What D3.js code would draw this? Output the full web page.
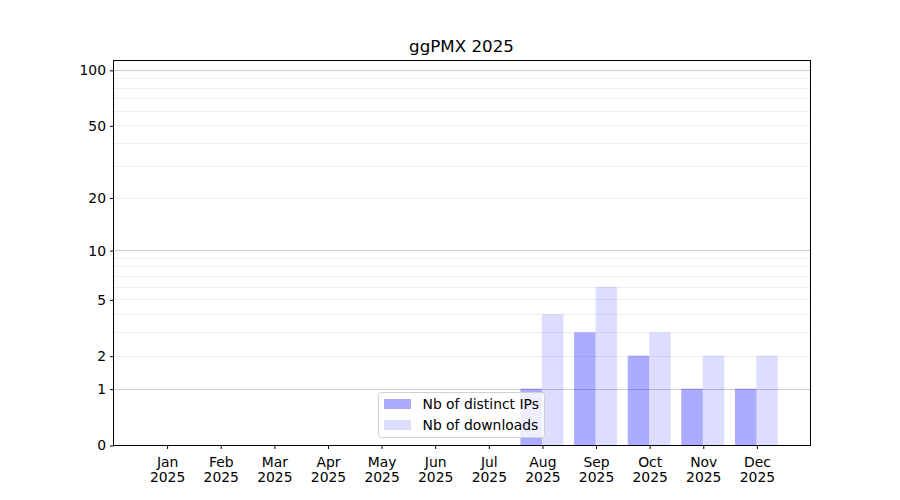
<!DOCTYPE html>
<html>
<head>
<meta charset="utf-8">
<script src="https://cdn.jsdelivr.net/npm/d3@7"></script>
<style>
body { margin: 0; background: #fff; }
text { font-family: "DejaVu Sans", sans-serif; }
</style>
</head>
<body>
<svg id="chart" width="900" height="500"></svg>
<script>
'use strict';

const months = ['Jan', 'Feb', 'Mar', 'Apr', 'May', 'Jun', 'Jul', 'Aug', 'Sep', 'Oct', 'Nov', 'Dec'];
const year = '2025';
const distinctIPs = [0, 0, 0, 0, 0, 0, 0, 1, 3, 2, 1, 1];
const downloads = [0, 0, 0, 0, 0, 0, 0, 4, 6, 3, 2, 2];
const yTicks = [0, 1, 2, 5, 10, 20, 50, 100];
const majorGrid = [1, 10, 100];
const minorGrid = [2, 3, 4, 5, 6, 7, 8, 9, 20, 30, 40, 50, 60, 70, 80, 90];

const plotLeft = 113, plotRight = 810, plotTop = 60, plotBottom = 445;
const svg = d3.select('#chart');

const x = d3.scaleLinear().domain([0, months.length + 1]).range([plotLeft, plotRight]);
const y = d3.scaleSymlog().constant(1).domain([0, 113]).range([plotBottom, plotTop]);
const barWidth = x(0.4) - x(0);

svg.append('text')
	.attr('x', (plotLeft + plotRight) / 2)
	.attr('y', 52)
	.attr('text-anchor', 'middle')
	.style('font-size', '16.7px')
	.text('ggPMX 2025');

// grid
svg.append('g').selectAll('line').data(minorGrid).join('line')
	.attr('x1', plotLeft).attr('x2', plotRight)
	.attr('y1', d => Math.round(y(d)) + 0.5).attr('y2', d => Math.round(y(d)) + 0.5)
	.attr('stroke', '#ebebeb').attr('stroke-width', 0.8);
svg.append('g').selectAll('line').data(majorGrid).join('line')
	.attr('x1', plotLeft).attr('x2', plotRight)
	.attr('y1', d => Math.round(y(d)) + 0.5).attr('y2', d => Math.round(y(d)) + 0.5)
	.attr('stroke', '#cccccc').attr('stroke-width', 1);

// bars
svg.append('g').selectAll('rect').data(distinctIPs).join('rect')
	.attr('x', (d, i) => x(i + 1) - barWidth)
	.attr('y', d => y(d))
	.attr('width', barWidth)
	.attr('height', d => y(0) - y(d))
	.attr('fill', 'blue').attr('fill-opacity', 0.33);
svg.append('g').selectAll('rect').data(downloads).join('rect')
	.attr('x', (d, i) => x(i + 1))
	.attr('y', d => y(d))
	.attr('width', barWidth)
	.attr('height', d => y(0) - y(d))
	.attr('fill', 'blue').attr('fill-opacity', 0.135);

// frame
svg.append('rect')
	.attr('x', plotLeft + 0.5).attr('y', plotTop + 0.5)
	.attr('width', plotRight - plotLeft).attr('height', plotBottom - plotTop)
	.attr('fill', 'none').attr('stroke', '#000').attr('stroke-width', 1);

// y axis
const yAxis = svg.append('g')
	.attr('transform', `translate(${plotLeft + 0.5},0.5)`)
	.call(d3.axisLeft(y).tickValues(yTicks).tickFormat(d3.format('d')).tickSize(3.5).tickPadding(4));
yAxis.select('.domain').remove();
yAxis.selectAll('text').style('font-size', '13.9px').style('font-family', '"DejaVu Sans", sans-serif');

// x axis
const xAxis = svg.append('g')
	.attr('transform', `translate(0.5,${plotBottom + 0.5})`)
	.call(d3.axisBottom(x).tickValues(d3.range(1, months.length + 1)).tickFormat('').tickSize(3.5));
xAxis.select('.domain').remove();
xAxis.selectAll('.tick').each(function (d) {
	const t = d3.select(this).append('text')
		.attr('fill', '#000')
		.attr('text-anchor', 'middle')
		.style('font-size', '13.9px')
		.style('font-family', '"DejaVu Sans", sans-serif');
	t.append('tspan').attr('x', 0).attr('y', 21.5).text(months[d - 1]);
	t.append('tspan').attr('x', 0).attr('y', 36).text(year);
});

// legend
const legend = svg.append('g').attr('transform', 'translate(378.5,392.5)');
legend.append('rect')
	.attr('width', 166).attr('height', 45).attr('rx', 3)
	.attr('fill', '#fff').attr('fill-opacity', 0.8)
	.attr('stroke', '#d0d0d0');
const legendItems = [
	{label: 'Nb of distinct IPs', opacity: 0.33},
	{label: 'Nb of downloads', opacity: 0.135}
];
legendItems.forEach((item, i) => {
	legend.append('rect')
		.attr('x', 5.5).attr('y', 6.5 + i * 21)
		.attr('width', 27).attr('height', 10)
		.attr('fill', 'blue').attr('fill-opacity', item.opacity);
	legend.append('text')
		.attr('x', 44).attr('y', 16.5 + i * 21)
		.style('font-size', '13.9px')
		.text(item.label);
});
</script>
</body>
</html>
